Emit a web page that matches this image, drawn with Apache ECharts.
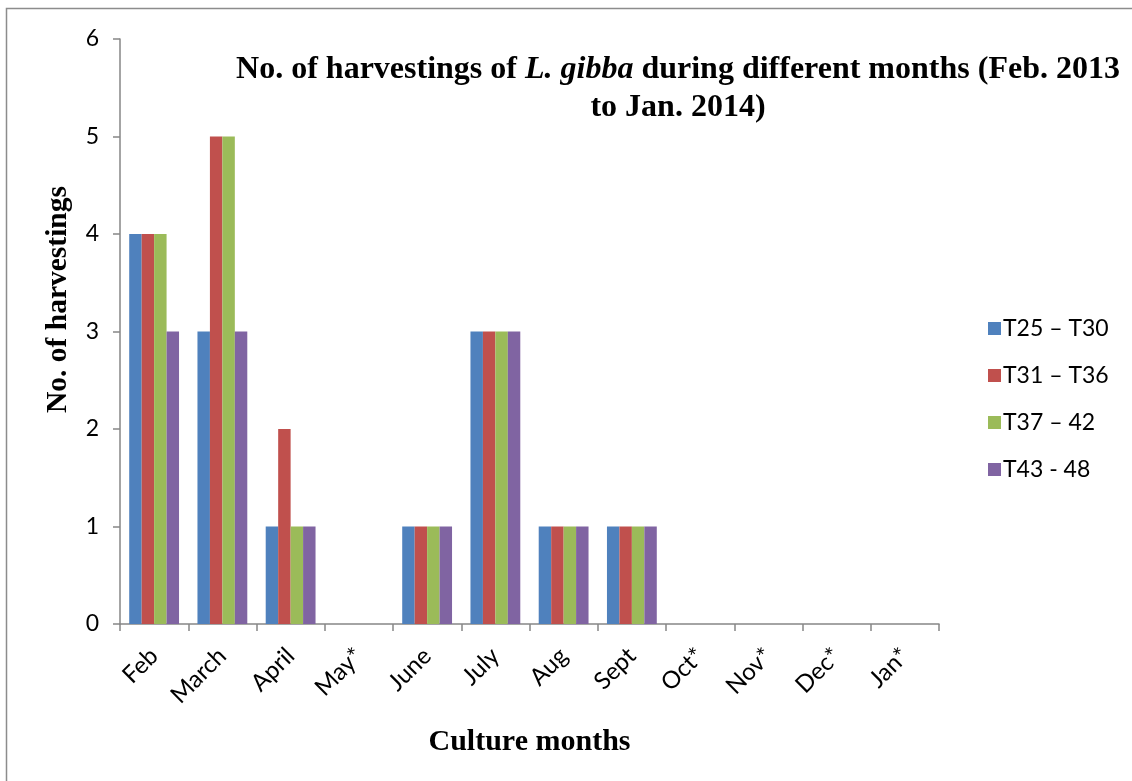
<!DOCTYPE html>
<html>
<head>
<meta charset="utf-8">
<script src="https://cdn.jsdelivr.net/npm/echarts@6/dist/echarts.min.js"></script>
<style>
  html, body { margin: 0; padding: 0; background: #fff; }
  #chart { width: 1132px; height: 781px; }
</style>
</head>
<body>
<div id="chart"></div>
<script>
// Culture months (asterisk = no harvest that month)
const months = ['Feb', 'March', 'April', 'May*', 'June', 'July', 'Aug', 'Sept', 'Oct*', 'Nov*', 'Dec*', 'Jan*'];

// Number of harvestings per treatment group
const seriesNames = ['T25 – T30', 'T31 – T36', 'T37 – 42', 'T43 - 48'];
const t25to30 = [4, 3, 1, 0, 1, 3, 1, 1, 0, 0, 0, 0];
const t31to36 = [4, 5, 2, 0, 1, 3, 1, 1, 0, 0, 0, 0];
const t37to42 = [4, 5, 1, 0, 1, 3, 1, 1, 0, 0, 0, 0];
const t43to48 = [3, 3, 1, 0, 1, 3, 1, 1, 0, 0, 0, 0];

const colors = ['#4F81BD', '#C0504D', '#9BBB59', '#8064A2'];
const serif = '"Liberation Serif", "Times New Roman", serif';
const sans = 'Lato, "Open Sans", sans-serif';

const chart = echarts.init(document.getElementById('chart'), null, { renderer: 'canvas' });

const values = [t25to30, t31to36, t37to42, t43to48];

chart.setOption({
  animation: false,
  backgroundColor: '#fff',
  color: colors,
  graphic: [{
    type: 'rect',
    shape: { x: 6.5, y: 8.5, width: 1140, height: 790 },
    style: { fill: 'none', stroke: '#8c8c8c', lineWidth: 1.5 },
    silent: true
  }],
  title: {
    left: 678,
    top: 51,
    padding: 0,
    textAlign: 'center',
    text: '{b|No. of harvestings of }{i|L. gibba}{b| during different months (Feb. 2013}\n{b|to Jan. 2014)}',
    textStyle: {
      rich: {
        b: { fontFamily: serif, fontWeight: 'bold', fontSize: 32, color: '#000', lineHeight: 38 },
        i: { fontFamily: serif, fontWeight: 'bold', fontStyle: 'italic', fontSize: 32, color: '#000', lineHeight: 38 }
      }
    }
  },
  legend: {
    orient: 'vertical',
    left: 983,
    top: 312,
    itemWidth: 13,
    itemHeight: 13,
    itemGap: 24,
    icon: 'rect',
    textStyle: { fontFamily: sans, fontSize: 23, color: '#000', padding: [0, 0, 0, -3] },
    data: seriesNames
  },
  grid: { left: 120, top: 39, width: 819, height: 585, containLabel: false },
  xAxis: {
    type: 'category',
    data: months,
    name: 'Culture months',
    nameLocation: 'middle',
    nameGap: 103,
    nameTextStyle: { fontFamily: serif, fontWeight: 'bold', fontSize: 30, color: '#000' },
    axisLine: { lineStyle: { color: '#868686', width: 1.5 } },
    axisTick: { show: true, length: 7, lineStyle: { color: '#868686', width: 1.5 } },
    axisLabel: { rotate: 45, margin: 28, fontFamily: sans, fontSize: 24, color: '#000', interval: 0 }
  },
  yAxis: {
    type: 'value',
    min: 0,
    max: 6,
    interval: 1,
    name: 'No. of harvestings',
    nameLocation: 'middle',
    nameRotate: 90,
    nameGap: 47,
    nameTextStyle: { fontFamily: serif, fontWeight: 'bold', fontSize: 29.5, color: '#000', padding: [0, 0, 0, 64] },
    axisLine: { show: true, lineStyle: { color: '#868686', width: 1.5 } },
    axisTick: { show: true, length: 7, lineStyle: { color: '#868686', width: 1.5 } },
    axisLabel: { margin: 21, fontFamily: sans, fontSize: 23, color: '#000' },
    splitLine: { show: false }
  },
  series: seriesNames.map((name, i) => ({
    name: name,
    type: 'bar',
    data: values[i],
    barGap: '0%',
    barCategoryGap: '27%',
    itemStyle: { color: colors[i] }
  }))
});
</script>
</body>
</html>
